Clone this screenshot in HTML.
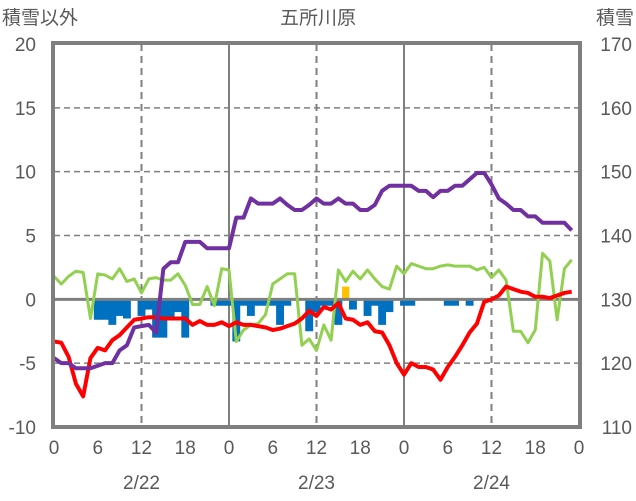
<!DOCTYPE html>
<html><head><meta charset="utf-8"><style>
body{margin:0;background:#fff}
svg{display:block;font-family:"Liberation Sans","Noto Sans CJK JP",sans-serif}
</style></head><body>
<svg id="chart" width="636" height="501">
<text x="2" y="24" font-size="19" fill="#595959">積雪以外</text>
<text x="318" y="24" font-size="19" fill="#595959" text-anchor="middle">五所川原</text>
<text x="634" y="24" font-size="19" fill="#595959" text-anchor="end">積雪</text>
<g id="grid"></g><g id="bars"></g><g id="lines"></g><g id="axes"></g>
</svg>
<script>
const hours=[...Array(72).keys()];
const leftTicks=[20,15,10,5,0,-5,-10];
const rightTicks=[170,160,150,140,130,120,110];
const xTickLabels=["0","6","12","18","0","6","12","18","0","6","12","18","0"];
const dateLabels=["2/22","2/23","2/24"];
const depth=[125.4,125,125,124.6,124.6,124.6,124.8,125,125,126,126.4,127.8,127.9,128,127.4,132.4,132.9,132.9,134.5,134.5,134.5,134,134,134,134,136.4,136.4,137.9,137.5,137.5,137.5,137.9,137.4,137,137,137.4,137.9,137.5,137.5,137.9,137.5,137.5,137,137,137.4,138.5,138.9,138.9,138.9,138.9,138.5,138.5,138,138.5,138.5,138.9,138.9,139.4,139.9,139.9,139,137.9,137.5,137,137,136.5,136.5,136,136,136,136,135.4];
const temp=[-3.3,-3.4,-4.5,-6.6,-7.6,-4.6,-3.8,-4,-3.2,-2.8,-2.2,-1.6,-1.5,-1.4,-1.4,-1.5,-1.5,-1.5,-1.5,-2,-1.7,-2,-2,-1.8,-2.1,-1.8,-2,-2,-2.1,-2.2,-2.4,-2.3,-2.1,-1.9,-1.5,-0.9,-1.3,-0.6,-0.8,-0.3,-1.5,-1.6,-2,-1.8,-2.5,-2.6,-3.6,-5,-5.9,-5,-5.3,-5.3,-5.5,-6.3,-5.3,-4.5,-3.6,-2.6,-1.9,-0.2,0,0.3,1,0.8,0.6,0.5,0.2,0.2,0.1,0.3,0.5,0.6];
const wind=[1.8,1.2,1.8,2.2,2.1,-1.5,2,1.9,1.6,2.4,1.4,1.6,0.5,1.6,1.7,1.5,1.5,2,1.1,-0.4,-0.4,1,-0.5,2.4,2.3,-3.3,-2.4,-2,-1.9,-1.2,1.2,1.6,2,2,-3.6,-3.1,-4,-2,-3.2,2.3,1.4,2.2,1.6,2.3,1.6,1,0.8,2.6,2,2.8,2.6,2.4,2.4,2.6,2.7,2.6,2.6,2.6,2.3,2.5,1.7,2.3,1.5,-2.5,-2.5,-3.4,-2.4,3.6,3,-1.6,2.4,3.1];
const blueBars=[0,0,0,0,0,0,-1.6,-1.6,-2,-1.3,-1.5,0,-1.3,-0.8,-3,-3,-1.5,-1,-3,0,0,0,-0.5,-0.5,-0.5,-3.3,-0.5,-1.3,-0.5,-0.5,-0.5,-2,-0.5,0,0,-2.5,-1,-0.5,-0.5,-2,0,-0.8,0,-1.3,-0.5,-2,-1,0,-0.5,-0.5,0,0,0,0,-0.5,-0.5,0,-0.5,0,0,0,0,0,0,0,0,0,0,0,0,0,0];
const orangeBars=[0,0,0,0,0,0,0,0,0,0,0,0,0,0,0,0,0,0,0,0,0,0,0,0,0,0,0,0,0,0,0,0,0,0,0,0,0,0,0,0,1,0,0,0,0,0,0,0,0,0,0,0,0,0,0,0,0,0,0,0,0,0,0,0,0,0,0,0,0,0,0,0];

const X0=54,X1=579,T=44,B=427;
const x=h=>X0+h*(X1-X0)/72;
const y=v=>T+(20-v)*(B-T)/30;
const yr=v=>y(v-130);
const NS="http://www.w3.org/2000/svg";
function mk(tag,parent,attrs){const e=document.createElementNS(NS,tag);for(const k in attrs)e.setAttribute(k,attrs[k]);parent.appendChild(e);return e;}
const grid=document.getElementById('grid'),bars=document.getElementById('bars'),lines=document.getElementById('lines'),axes=document.getElementById('axes');
leftTicks.forEach((v,i)=>{
 if(v!==20&&v!==-10&&v!==0){const g=mk('line',grid,{x1:X0,x2:X1,y1:y(v),y2:y(v),stroke:'#7f7f7f','stroke-width':1.5,'stroke-dasharray':'6,4'});
 
 }
 const t=mk('text',axes,{x:36,y:y(v)+7,'font-size':19,fill:'#595959','text-anchor':'end'});t.textContent=v;
 
 
 const t2=mk('text',axes,{x:632,y:y(v)+7,'font-size':19,fill:'#595959','text-anchor':'end'});t2.textContent=rightTicks[i];
 
 
});
xTickLabels.forEach((s,i)=>{
 const h=i*6;
 if(h>0&&h<72&&h%12===0){const solid=h%24===0;
  const g=mk('line',grid,{x1:x(h),x2:x(h),y1:T,y2:B,stroke:'#7f7f7f','stroke-width':2,'stroke-dasharray':solid?'none':'7,5'});
  
  }
 const t=mk('text',axes,{x:x(h),y:454,'font-size':19,fill:'#595959','text-anchor':'middle'});t.textContent=s;
 
 
});
dateLabels.forEach((s,i)=>{const t=mk('text',axes,{x:x(12+24*i),y:489,'font-size':19,fill:'#595959','text-anchor':'middle'});t.textContent=s;
 
 });
const bw=(X1-X0)/72;
blueBars.forEach((v,h)=>{if(!v)return;const r=mk('rect',bars,{x:x(h)-bw/2-0.3,y:Math.min(y(0),y(v)),width:bw+0.6,height:Math.abs(y(v)-y(0)),fill:'#0070C0'});
 
 });
orangeBars.forEach((v,h)=>{if(!v)return;const r=mk('rect',bars,{x:x(h)-bw/2,y:Math.min(y(0),y(v)),width:bw,height:Math.abs(y(v)-y(0)),fill:'#FFC000'});
 
 });
const zl=mk('line',lines,{x1:X0,x2:X1,y1:y(0),y2:y(0),stroke:'#7f7f7f','stroke-width':3});


function series(arr,fy,color,w,name){const p=mk('polyline',lines,{points:arr.map((v,h)=>x(h)+','+fy(v)).join(' '),fill:'none',stroke:color,'stroke-width':w,'stroke-linejoin':'round'});
 
 }
series(wind,y,'#92D050',3,'wind-line');
series(temp,y,'#FF0000',4,'temperature-line');
series(depth,yr,'#7030A0',4,'snow-depth-line');
const fr=mk('rect',axes,{x:X0-1,y:T-1,width:X1-X0+2,height:B-T+1,fill:'none',stroke:'#7f7f7f','stroke-width':4});


</script>
</body></html>
